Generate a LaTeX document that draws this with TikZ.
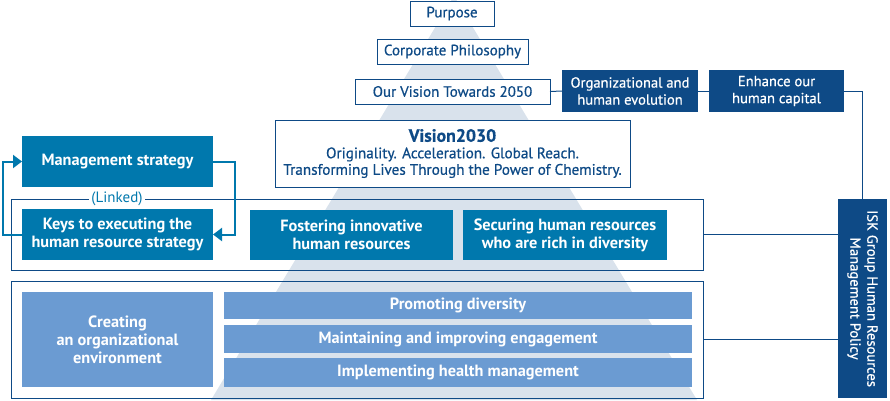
\documentclass[tikz,border=0pt]{standalone}
\usepackage{fontspec}
\setmainfont{PT Sans}
\newfontfamily\medfont[FakeBold=0.6]{PT Sans}
\usetikzlibrary{arrows.meta}
\definecolor{navy}{HTML}{0E4A86}
\definecolor{tealc}{HTML}{0078AD}
\definecolor{lightb}{HTML}{6B9BD2}
\definecolor{pyr}{HTML}{D9E2EC}
\begin{document}
\begin{tikzpicture}[x=1pt,y=-1pt]
\tikzset{
  base/.style={inner sep=0pt, outer sep=0pt, align=center, anchor=north west},
  outl/.style={base, draw=navy, line width=1pt, fill=white, text=navy, font=\medfont\fontsize{15}{17}\selectfont},
  darkbox/.style={base, fill=navy, text=white, font=\medfont\fontsize{14.6}{17}\selectfont},
  tealbox/.style={base, fill=tealc, text=white, font=\bfseries\fontsize{16.3}{18}\selectfont},
  lightbox/.style={base, fill=lightb, text=white, font=\bfseries\fontsize{16.3}{18}\selectfont},
  grp/.style={base, draw=navy, line width=1pt},
  conn/.style={draw=navy, line width=1pt},
  arr/.style={draw=tealc, line width=2pt, -{Triangle[length=9pt,width=13pt]}}
}
\useasboundingbox (0,0) rectangle (890,400);
% pyramid
\fill[pyr] (454,-4) -- (697,400) -- (211,400) -- cycle;
% group frames
\node[grp, minimum width=692, minimum height=71] (g1) at (11,199) {};
\node[grp, minimum width=692, minimum height=117] (g2) at (11,281) {};
% top boxes
\node[outl, minimum width=84, minimum height=25] (purpose) at (410,1) {Purpose};
\node[outl, minimum width=151, minimum height=25] (corp) at (377,39) {Corporate Philosophy};
\node[outl, minimum width=195, minimum height=25] (ovt) at (355,79) {Our Vision Towards 2050};
\node[darkbox, minimum width=136, minimum height=42] (org) at (562,70) {Organizational and\\human evolution};
\node[darkbox, minimum width=135, minimum height=42] (enh) at (709,70) {Enhance our\\human capital};
\node[outl, minimum width=355, minimum height=67, font=\medfont\fontsize{15.2}{16.5}\selectfont] (vis) at (275,120) {{\bfseries\fontsize{17.8}{20}\selectfont Vision2030}\\Originality. Acceleration. Global Reach.\\Transforming Lives Through the Power of Chemistry.};
% middle
\node[tealbox, minimum width=191, minimum height=51] (mgmt) at (22,136) {Management strategy};
\node[tealbox, minimum width=191, minimum height=51] (keys) at (22,209) {Keys to executing the\\human resource strategy};
\node[tealbox, minimum width=203, minimum height=50] (fost) at (250,210) {Fostering innovative\\human resources};
\node[tealbox, minimum width=204, minimum height=50] (sec) at (463,210) {Securing human resources\\who are rich in diversity};
\node[fill=white, inner sep=2pt, text=tealc, font=\fontsize{15}{17}\selectfont] (linked) at (117,199) {(Linked)};
% bottom
\node[lightbox, minimum width=191, minimum height=95] (cre) at (22,292) {Creating\\an organizational\\environment};
\node[lightbox, minimum width=468, minimum height=27] (prom) at (224,292) {Promoting diversity};
\node[lightbox, minimum width=468, minimum height=28] (main) at (224,325) {Maintaining and improving engagement};
\node[lightbox, minimum width=468, minimum height=29] (impl) at (224,358) {Implementing health management};
% ISK policy
\node[base, fill=navy, minimum width=49, minimum height=199] (isk) at (838,199) {};
\node[rotate=-90, text=white, align=center, inner sep=0pt, font=\medfont\fontsize{14.6}{17}\selectfont] (iskt) at (isk.center) {ISK Group Human Resources\\Management Policy};
% connectors
\draw[conn] (ovt.east) -- (org.west);
\draw[conn] (org.east) -- (enh.west);
\draw[conn] (enh.east) -| (isk.north);
\draw[conn] (g1.east) -- (g1.east -| isk.west);
\draw[conn] (g2.east) -- (g2.east -| isk.west);
% arrows
\draw[arr] (mgmt.east) -- ++(22,0) |- (keys.east);
\draw[arr] (keys.west) -- ++(-19,0) |- (mgmt.west);
\end{tikzpicture}
\end{document}
